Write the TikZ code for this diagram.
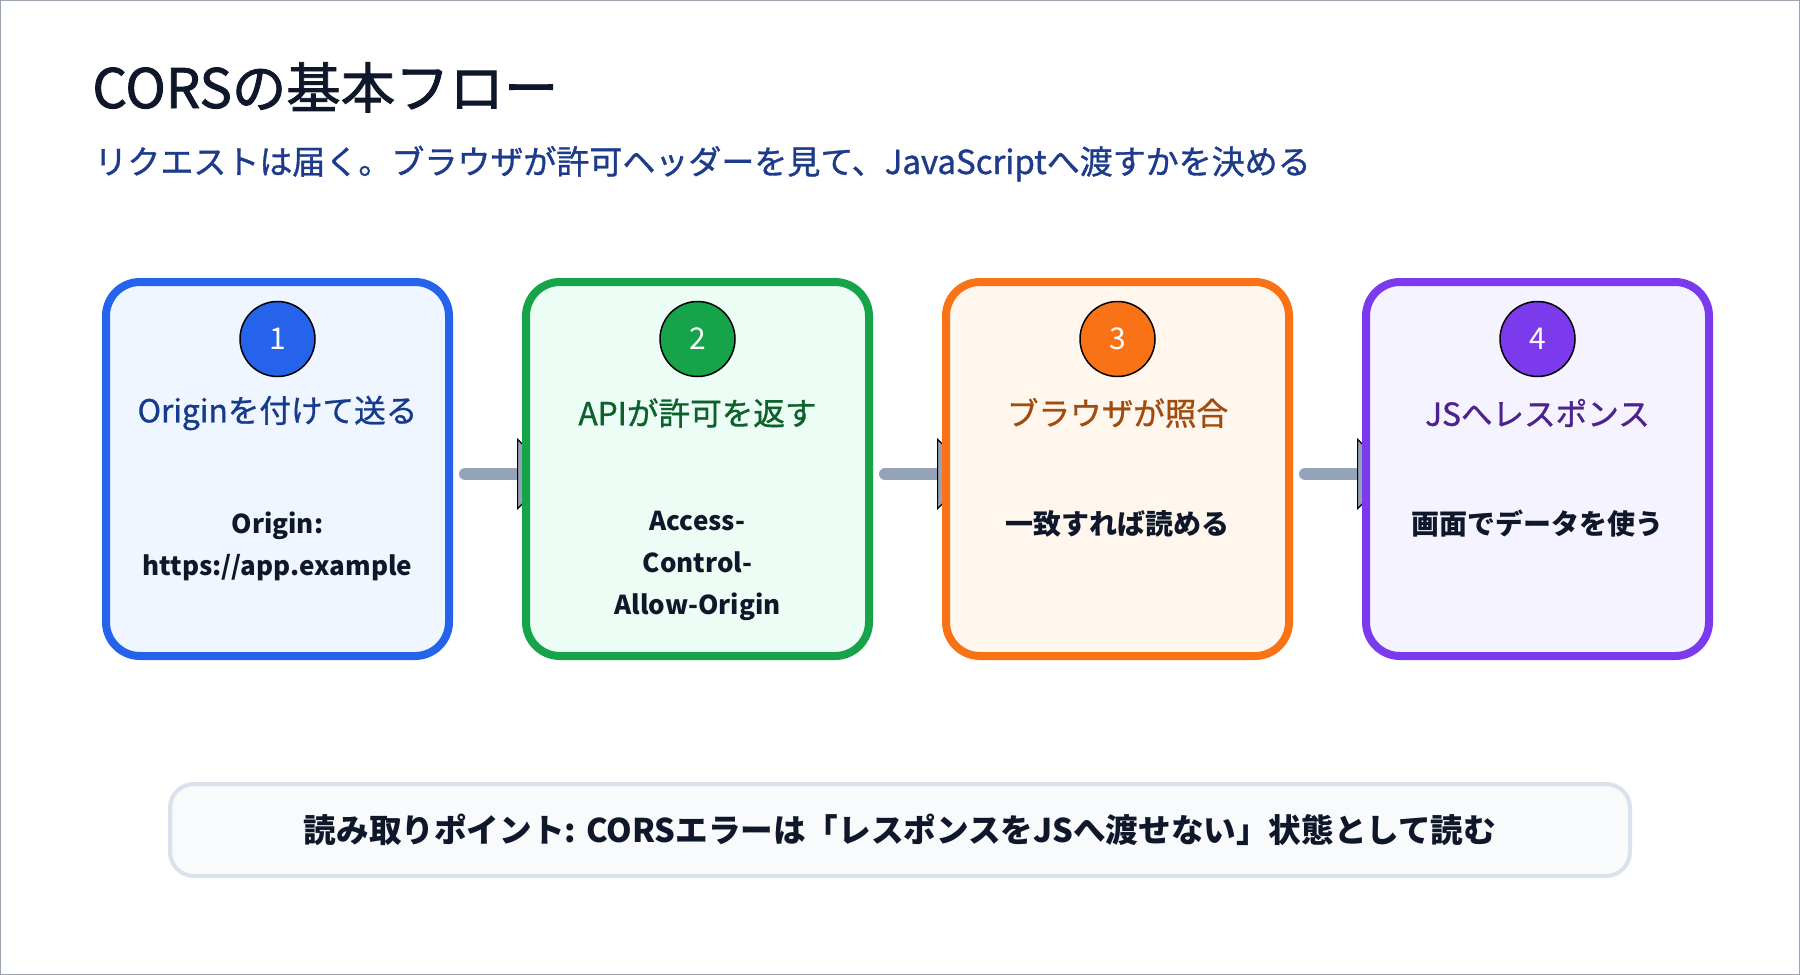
\documentclass[tikz,border=0pt]{standalone}
\usepackage{fontspec}
\setmainfont{Noto Sans CJK JP}
\newfontfamily\heavyfont{Noto Sans CJK JP}[FakeBold=1.6]
\newfontfamily\midfont{Noto Sans CJK JP}[FakeBold=1.0]
\usepackage{xcolor}
\definecolor{ink}{HTML}{0F172A}
\definecolor{subink}{HTML}{1E3A8A}
\definecolor{blueline}{HTML}{2563EB}
\definecolor{bluebg}{HTML}{EFF6FF}
\definecolor{greenline}{HTML}{16A34A}
\definecolor{greenbg}{HTML}{ECFDF5}
\definecolor{orangeline}{HTML}{F97316}
\definecolor{orangebg}{HTML}{FFF7ED}
\definecolor{purpleline}{HTML}{7C3AED}
\definecolor{purplebg}{HTML}{F5F3FF}
\definecolor{flowgray}{HTML}{94A3B8}
\definecolor{noteline}{HTML}{DAE2ED}
\definecolor{notebg}{HTML}{F8FAFC}
\definecolor{framegray}{HTML}{9CA3AF}
\usepackage{tikz}
\usetikzlibrary{
  arrows.meta,
  positioning,
  backgrounds
}

\begin{document}
\begin{tikzpicture}[
  x=0.5pt, y=-0.5pt,
  stepbox/.style={rectangle, rounded corners=17pt, line width=4pt, minimum width=171.5pt, minimum height=187pt},
  badge/.style={circle, draw=black, line width=0.75pt, minimum size=37.5pt, inner sep=0pt, text=white, font=\fontsize{15}{15}\selectfont},
  steptitle/.style={inner sep=0pt, font=\midfont\fontsize{15.8}{18}\selectfont},
  stepbody/.style={anchor=north, inner sep=0pt, align=center, text=ink, font=\fontsize{14}{21}\selectfont\bfseries},
  latinbody/.style={stepbody, font=\fontsize{13}{21}\selectfont\bfseries},
  flow/.style={line width=6pt, flowgray, line cap=round, -{Triangle[length=18pt, width=36pt, color=black, fill=flowgray, line width=0.6pt]}},
  note/.style={rectangle, rounded corners=12pt, draw=noteline, fill=notebg, line width=2pt, minimum width=730pt, minimum height=46pt, text=ink, font=\fontsize{16.3}{18}\selectfont\bfseries},
]
\useasboundingbox (0,0) rectangle (1800,975);
\begin{scope}[on background layer]
  \draw[framegray, fill=white, line width=0.5pt] (0.5,0.5) rectangle (1799.5,974.5);
\end{scope}

% Titulo
\node[anchor=base west, inner sep=0pt, text=ink, font=\heavyfont\fontsize{27.2}{30}\selectfont] (title) at (92,108) {CORSの基本フロー};
\node[anchor=base west, inner sep=0pt, text=subink, font=\midfont\fontsize{16.5}{20}\selectfont] (subtitle) at (94,174) {リクエストは届く。ブラウザが許可ヘッダーを見て、JavaScriptへ渡すかを決める};

% Pasos
\node[stepbox, draw=blueline, fill=bluebg] (s1) at (277.5,469) {};
\node[stepbox, draw=greenline, fill=greenbg, right=34.5pt of s1] (s2) {};
\node[stepbox, draw=orangeline, fill=orangebg, right=34.5pt of s2] (s3) {};
\node[stepbox, draw=purpleline, fill=purplebg, right=34.5pt of s3] (s4) {};

\node[badge, fill=blueline] (b1) at ([yshift=-30.5pt]s1.north) {1};
\node[badge, fill=greenline] (b2) at ([yshift=-30.5pt]s2.north) {2};
\node[badge, fill=orangeline] (b3) at ([yshift=-30.5pt]s3.north) {3};
\node[badge, fill=purpleline] (b4) at ([yshift=-30.5pt]s4.north) {4};

\node[steptitle, text=blueline!60!black] (t1) at ([yshift=-67.5pt]s1.north) {Originを付けて送る};
\node[steptitle, text=greenline!60!black] (t2) at ([yshift=-67.5pt]s2.north) {APIが許可を返す};
\node[steptitle, text=orangeline!65!black] (t3) at ([yshift=-67.5pt]s3.north) {ブラウザが照合};
\node[steptitle, text=purpleline!60!black] (t4) at ([yshift=-67.5pt]s4.north) {JSへレスポンス};

\node[latinbody] (d1) at ([yshift=-116.5pt]s1.north) {Origin:\\https://app.example};
\node[latinbody] (d2) at ([yshift=-116.5pt]s2.north) {Access-\\Control-\\Allow-Origin};
\node[stepbody] (d3) at ([yshift=-116pt]s3.north) {一致すれば読める};
\node[stepbody] (d4) at ([yshift=-116pt]s4.north) {画面でデータを使う};

% Flechas (debajo de las cajas)
\begin{scope}[on background layer]
  \draw[flow] ([xshift=6pt, yshift=-2.5pt]s1.east) -- ([xshift=15.5pt, yshift=-2.5pt]s2.west);
  \draw[flow] ([xshift=6pt, yshift=-2.5pt]s2.east) -- ([xshift=15.5pt, yshift=-2.5pt]s3.west);
  \draw[flow] ([xshift=6pt, yshift=-2.5pt]s3.east) -- ([xshift=15.5pt, yshift=-2.5pt]s4.west);
\end{scope}

% Nota
\node[note] (note) at (900,830) {読み取りポイント: CORSエラーは「レスポンスをJSへ渡せない」状態として読む};

\end{tikzpicture}
\end{document}
